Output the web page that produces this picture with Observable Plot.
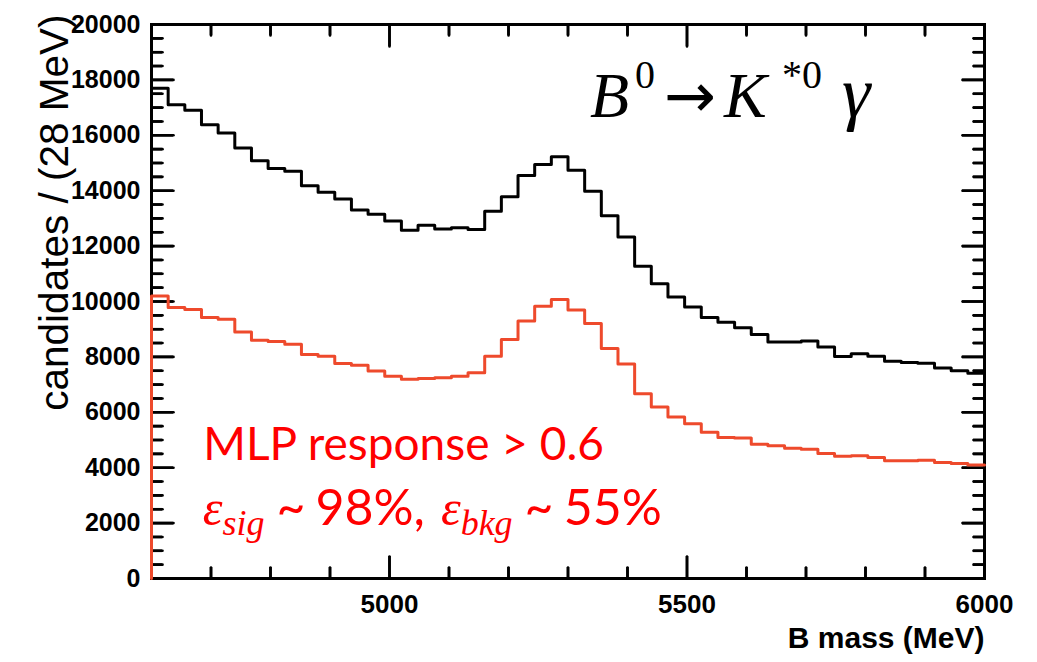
<!DOCTYPE html>
<html><head><meta charset="utf-8">
<script src="https://cdn.jsdelivr.net/npm/d3@7"></script>
<script src="https://cdn.jsdelivr.net/npm/@observablehq/plot@0.6"></script>
<style>body{margin:0;background:#fff}</style>
</head><body><div id="chart"></div>
<script>
// Histogram binning: 50 bins of 28 MeV from 4600 to 6000 MeV
const binStart = 4600;
const binWidth = 28;
// All candidates (black)
const allCandidates = [17700, 17100, 16900, 16380, 16080, 15540, 15080, 14800, 14700, 14180,
  13940, 13700, 13300, 13150, 12910, 12570, 12750, 12620, 12660, 12600,
  13260, 13780, 14550, 14950, 15230, 14740, 13980, 13100, 12330, 11270,
  10640, 10160, 9800, 9420, 9250, 9050, 8810, 8540, 8540, 8570,
  8360, 8010, 8110, 8020, 7840, 7800, 7770, 7600, 7500, 7410];
// MLP response > 0.6 (red)
const mlpSelected = [10200, 9780, 9710, 9420, 9360, 8900, 8600, 8560, 8460, 8090,
  8020, 7760, 7700, 7490, 7300, 7190, 7220, 7250, 7300, 7430,
  8020, 8630, 9300, 9830, 10070, 9690, 9210, 8300, 7740, 6670,
  6190, 5830, 5590, 5280, 5090, 5070, 4850, 4790, 4700, 4670,
  4510, 4410, 4430, 4370, 4250, 4250, 4270, 4190, 4150, 4100];
// Axes
const xDomain = [4600, 6000];
const yDomain = [0, 20000];
const xMajorTicks = [5000, 5500, 6000];
const xMinorTicks = [4700, 4800, 4900, 5100, 5200, 5300, 5400, 5600, 5700, 5800, 5900];
const yMajorTicks = [0, 2000, 4000, 6000, 8000, 10000, 12000, 14000, 16000, 18000, 20000];
const yMinorTicks = [500, 1000, 1500, 2500, 3000, 3500, 4500, 5000, 5500, 6500, 7000, 7500,
  8500, 9000, 9500, 10500, 11000, 11500, 12500, 13000, 13500, 14500, 15000, 15500,
  16500, 17000, 17500, 18500, 19000, 19500];

const W = 1037, H = 662;
const mL = 151, mR = 53, mT = 24, mB = 84;
const pW = W - mL - mR, pH = H - mT - mB;
const majorLen = 22, minorLen = 11;
const xPerPx = (xDomain[1] - xDomain[0]) / pW;
const yPerPx = (yDomain[1] - yDomain[0]) / pH;
const redLine = "#ee4a2c";
const redText = "#ff0000";
const sans = "'Liberation Sans', Arial, Helvetica, sans-serif";
const lato = "Lato, 'Open Sans', sans-serif";
const serif = "'Liberation Serif', 'DejaVu Serif', serif";

function histPoints(values) {
  const pts = [{x: binStart, y: 0}];
  values.forEach((v, i) => pts.push({x: binStart + i * binWidth, y: v}));
  pts.push({x: binStart + values.length * binWidth, y: values[values.length - 1]});
  return pts;
}

// inward tick segments on all four sides, as two-point paths (lengths converted from pixels)
function tickPaths() {
  const pts = [];
  let id = 0;
  const seg = (x1, y1, x2, y2) => { pts.push({id, x: x1, y: y1}, {id, x: x2, y: y2}); id++; };
  const addX = (ticks, len) => ticks.forEach(t => {
    seg(t, yDomain[0], t, yDomain[0] + len * yPerPx);
    seg(t, yDomain[1] - len * yPerPx, t, yDomain[1]);
  });
  const addY = (ticks, len) => ticks.forEach(t => {
    seg(xDomain[0], t, xDomain[0] + len * xPerPx, t);
    seg(xDomain[1] - len * xPerPx, t, xDomain[1], t);
  });
  addX(xMajorTicks, majorLen); addX(xMinorTicks, minorLen);
  addY(yMajorTicks, majorLen); addY(yMinorTicks, minorLen);
  return pts;
}

const tk = {stroke: "black", strokeWidth: 2.6};
const plot = Plot.plot({
  width: W, height: H,
  marginLeft: mL, marginRight: mR, marginTop: mT, marginBottom: mB,
  x: {domain: xDomain},
  y: {domain: yDomain},
  style: {background: "#fff", fontFamily: sans},
  marks: [
    Plot.frame({stroke: "#000", strokeWidth: 3}),
    Plot.line(tickPaths(), {x: "x", y: "y", z: "id", ...tk}),
    Plot.ruleX(xMajorTicks, {y1: yDomain[0], y2: yDomain[0] + majorLen * yPerPx, ...tk}),
    Plot.ruleX(xMinorTicks, {y1: yDomain[0], y2: yDomain[0] + minorLen * yPerPx, ...tk}),
    Plot.ruleX(xMajorTicks, {y1: yDomain[1] - majorLen * yPerPx, y2: yDomain[1], ...tk}),
    Plot.ruleX(xMinorTicks, {y1: yDomain[1] - minorLen * yPerPx, y2: yDomain[1], ...tk}),
    Plot.ruleY(yMajorTicks, {x1: xDomain[0], x2: xDomain[0] + majorLen * xPerPx, ...tk}),
    Plot.ruleY(yMinorTicks, {x1: xDomain[0], x2: xDomain[0] + minorLen * xPerPx, ...tk}),
    Plot.ruleY(yMajorTicks, {x1: xDomain[1] - majorLen * xPerPx, x2: xDomain[1], ...tk}),
    Plot.ruleY(yMinorTicks, {x1: xDomain[1] - minorLen * xPerPx, x2: xDomain[1], ...tk}),
    Plot.axisX({ticks: xMajorTicks, tickSize: 0, tickPadding: 16, tickFormat: d => String(d),
      fontSize: 26, fontWeight: "bold", fontFamily: sans, label: null}),
    Plot.axisY({ticks: yMajorTicks, tickSize: 0, tickPadding: 11, tickFormat: d => String(d),
      fontSize: 25, fontWeight: "bold", fontFamily: sans, label: null}),
    Plot.text(["B mass (MeV)"], {frameAnchor: "bottom-right", textAnchor: "end", lineAnchor: "top",
      dy: 48, fontSize: 30, fontWeight: "bold", fontFamily: sans}),
    Plot.text(["candidates / (28 MeV)"], {frameAnchor: "top-left", rotate: -90, textAnchor: "end",
      lineAnchor: "middle", dx: -96, dy: -10, fontSize: 40.5, fontFamily: sans}),
    Plot.text(["MLP response > 0.6"], {x: [4687], y: [4280], textAnchor: "start", lineAnchor: "bottom",
      fontSize: 46, fill: redText, fontFamily: lato}),
    Plot.line(histPoints(allCandidates), {x: "x", y: "y", curve: "step-after", stroke: "#000", strokeWidth: 3}),
    Plot.line(histPoints(mlpSelected), {x: "x", y: "y", curve: "step-after", stroke: redLine, strokeWidth: 3})
  ]
});
document.getElementById("chart").appendChild(plot);

// Rich (math) annotations positioned through the plot's scales
const svg = d3.select(plot);
const sx = plot.scale("x"), sy = plot.scale("y");

const tx = sx.apply(5338), ty = sy.apply(16640);
const title = svg.append("text").attr("y", ty).attr("text-anchor", "start")
  .attr("font-family", serif).attr("font-size", 64).attr("fill", "#000");
title.append("tspan").attr("x", tx).attr("font-style", "italic").text("B");
title.append("tspan").attr("x", tx + 45).attr("dy", -29).attr("font-size", 40).text("0");
title.append("tspan").attr("x", tx + 74).attr("dy", 29).attr("font-family", "'DejaVu Sans', sans-serif")
  .attr("font-size", 62).text("→");
title.append("tspan").attr("x", tx + 134).attr("font-style", "italic").text("K");
title.append("tspan").attr("x", tx + 192).attr("dy", -29).attr("font-size", 40).text("*0");
title.append("tspan").attr("x", tx + 252).attr("dy", 29).attr("font-size", 72).attr("font-style", "italic").text("γ");

const ex = sx.apply(4687), ey = sy.apply(1920);
const eff = svg.append("text").attr("y", ey).attr("text-anchor", "start")
  .attr("font-family", lato).attr("font-size", 50).attr("fill", redText);
eff.append("tspan").attr("x", ex).attr("font-family", serif).attr("font-style", "italic").text("ε");
eff.append("tspan").attr("font-family", serif).attr("font-style", "italic").attr("font-size", 36).attr("dy", 10).text("sig");
eff.append("tspan").attr("dx", 12).attr("dy", -10).text("~");
eff.append("tspan").attr("dx", 10).text("98%,");
eff.append("tspan").attr("dx", 16).attr("font-family", serif).attr("font-style", "italic").text("ε");
eff.append("tspan").attr("font-family", serif).attr("font-style", "italic").attr("font-size", 36).attr("dy", 10).text("bkg");
eff.append("tspan").attr("dx", 12).attr("dy", -10).text("~");
eff.append("tspan").attr("dx", 10).text("55%");
</script>
</body></html>
